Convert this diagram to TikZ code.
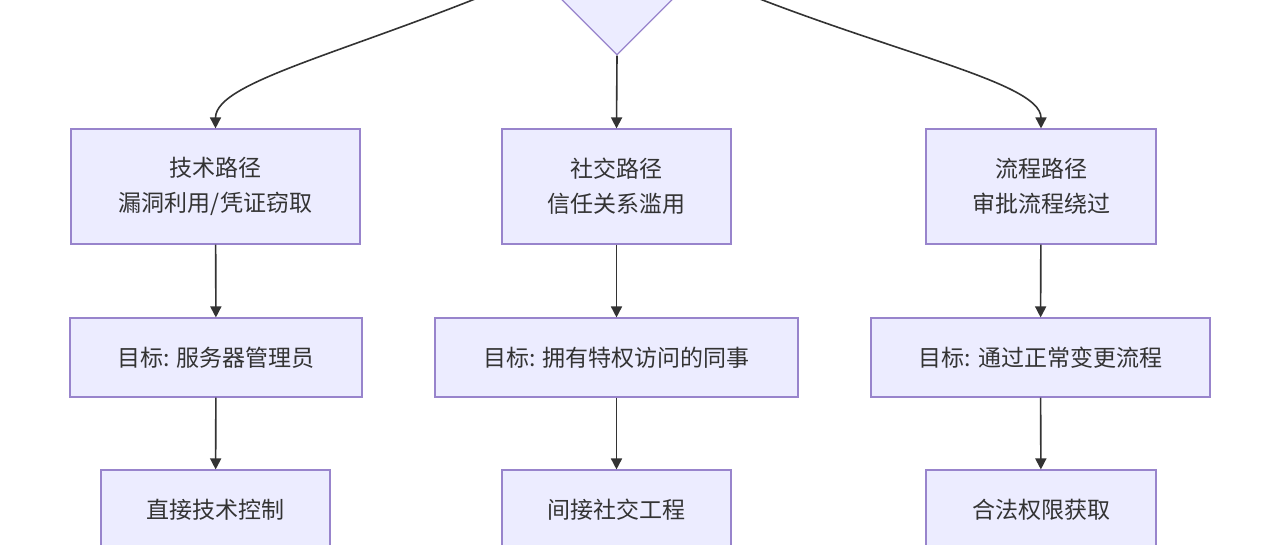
\documentclass[tikz,border=0pt]{standalone}
\usepackage{fontspec}
\newfontfamily\cjk{Noto Sans CJK SC}
\usetikzlibrary{arrows.meta,shapes.geometric}
\definecolor{boxFill}{HTML}{ECECFF}
\definecolor{boxLine}{RGB}{152,132,204}
\definecolor{edgeCol}{HTML}{333333}

\begin{document}
\begin{tikzpicture}[x=1pt, y=-1pt,
    box/.style={draw=boxLine, fill=boxFill, line width=1.1pt, inner sep=0pt,
      align=center, text=edgeCol, font=\cjk\fontsize{23}{35}\selectfont},
    edge/.style={draw=edgeCol, line width=1.6pt, -{Triangle[length=11pt,width=11pt]}}]
    \useasboundingbox (0,0) rectangle (1280,545);
    \clip (0,0) rectangle (1280,545);
    \fill[white] (0,0) rectangle (1280,545);

    % Decision (only its lower half is in view)
    \node[box, diamond, aspect=1, minimum width=162pt, minimum height=162pt] (choice) at (617,-26) {};

    % Row 1: the three paths
    \node[box, minimum width=289pt, minimum height=115pt] (tech)   at (215.5,186.5) {技术路径\\漏洞利用/凭证窃取};
    \node[box, minimum width=229pt, minimum height=115pt] (social) at (616.5,186.5) {社交路径\\信任关系滥用};
    \node[box, minimum width=230pt, minimum height=115pt] (proc)   at (1041,186.5)  {流程路径\\审批流程绕过};

    % Row 2: targets
    \node[box, minimum width=292pt, minimum height=79pt] (techTarget)   at (216,357.5)    {目标: 服务器管理员};
    \node[box, minimum width=363pt, minimum height=79pt] (socialTarget) at (616.5,357.5)  {目标: 拥有特权访问的同事};
    \node[box, minimum width=339pt, minimum height=79pt] (procTarget)   at (1040.5,357.5) {目标: 通过正常变更流程};

    % Row 3: outcomes
    \node[box, minimum width=229pt, minimum height=79pt] (techCtrl)  at (215.5,509.5) {直接技术控制};
    \node[box, minimum width=229pt, minimum height=79pt] (socialEng) at (616.5,509.5) {间接社交工程};
    \node[box, minimum width=230pt, minimum height=79pt] (legalAcc)  at (1041,509.5)  {合法权限获取};

    % Edges
    \draw[edge] (choice.west) .. controls (360,50) and (215.5,80) .. (tech.north);
    \draw[edge] (choice.south) -- (social.north);
    \draw[edge] (choice.east) .. controls (874,50) and (1041,80) .. (proc.north);

    \draw[edge] (tech) -- (techTarget);
    \draw[edge] (social) -- (socialTarget);
    \draw[edge] (proc) -- (procTarget);

    \draw[edge] (techTarget) -- (techCtrl);
    \draw[edge] (socialTarget) -- (socialEng);
    \draw[edge] (procTarget) -- (legalAcc);
  \end{tikzpicture}
\end{document}
